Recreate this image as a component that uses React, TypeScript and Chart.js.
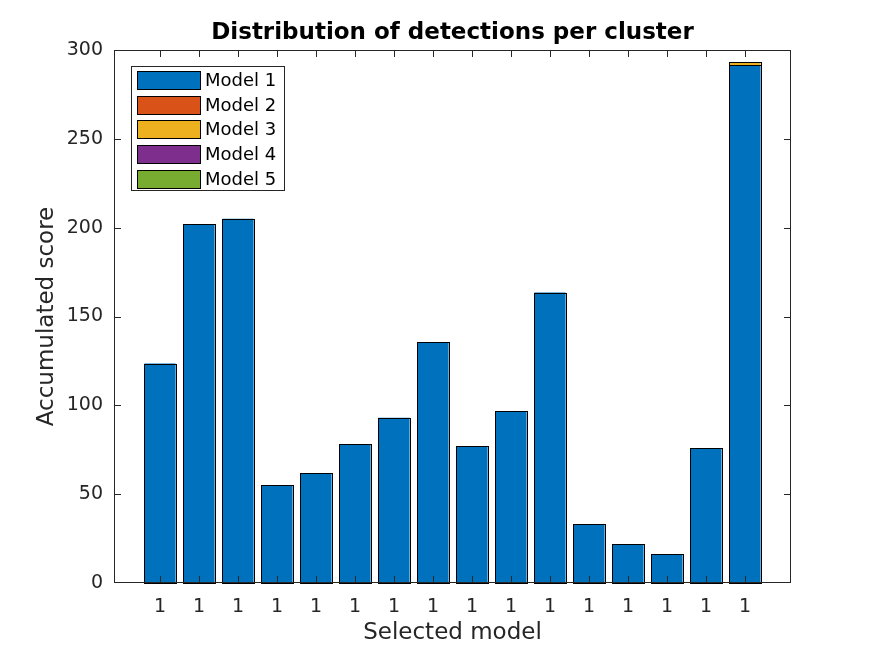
import React, { useEffect, useRef } from 'react';
import { Chart, registerables } from 'chart.js';

Chart.register(...registerables);

// one bar per cluster, the label under each bar is the selected model
const clusters = [1, 2, 3, 4, 5, 6, 7, 8, 9, 10, 11, 12, 13, 14, 15, 16];
const selectedModel = ['1', '1', '1', '1', '1', '1', '1', '1', '1', '1', '1', '1', '1', '1', '1', '1'];

const model1 = [123.5, 202, 205, 55, 61.8, 78, 93, 135.4, 77, 96.6, 163.5, 33, 22, 16.3, 75.8, 291.4];
const model2 = [0, 0, 0, 0, 0, 0, 0, 0, 0, 0, 0, 0, 0, 0, 0, 0];
const model3 = [0, 0, 0, 0, 0, 0, 0, 0, 0, 0, 0, 0, 0, 0, 0, 1.8];
const model4 = [0, 0, 0, 0, 0, 0, 0, 0, 0, 0, 0, 0, 0, 0, 0, 0];
const model5 = [0, 0, 0, 0, 0, 0, 0, 0, 0, 0, 0, 0, 0, 0, 0, 0];

const seriesNames = ['Model 1', 'Model 2', 'Model 3', 'Model 4', 'Model 5'];
const seriesColors = ['#0072BD', '#D95319', '#EDB120', '#7E2F8E', '#77AC30'];
const yTicks = [0, 50, 100, 150, 200, 250, 300];

const FONT = '"DejaVu Sans", sans-serif';
const AXIS = '#262626';

// crisp black edges round every bar segment, like matlab draws them
const edgePlugin = {
  id: 'edges',
  afterDatasetsDraw(chart: any) {
    const { ctx } = chart;
    ctx.save();
    ctx.strokeStyle = '#000';
    ctx.lineWidth = 1;
    chart.data.datasets.forEach((_d: any, i: number) => {
      const meta = chart.getDatasetMeta(i);
      meta.data.forEach((bar: any) => {
        const p = bar.getProps(['x', 'y', 'base', 'width']);
        if (Math.abs(p.base - p.y) < 0.5) return;
        const l = Math.round(p.x - p.width / 2);
        const r = Math.round(p.x + p.width / 2);
        const t = Math.round(Math.min(p.y, p.base));
        const b = Math.round(Math.max(p.y, p.base));
        ctx.strokeRect(l + 0.5, t + 0.5, r - l, b - t);
      });
    });
    ctx.restore();
  },
};

// matlab style box with inward ticks on all four sides
const boxPlugin = {
  id: 'box',
  afterDraw(chart: any) {
    const { ctx, chartArea: a, scales } = chart;
    const L = Math.round(a.left);
    const R = Math.round(a.right) - 1;
    const T = Math.round(a.top);
    const B = Math.round(a.bottom) - 1;
    const len = 7;
    ctx.save();
    ctx.fillStyle = AXIS;
    ctx.fillRect(L, T, R - L + 1, 1);
    ctx.fillRect(L, B, R - L + 1, 1);
    ctx.fillRect(L, T, 1, B - T + 1);
    ctx.fillRect(R, T, 1, B - T + 1);
    yTicks.forEach(v => {
      const y = Math.round(scales.y.getPixelForValue(v));
      const yy = Math.min(Math.max(y, T), B);
      ctx.fillRect(L, yy, len, 1);
      ctx.fillRect(R - len + 1, yy, len, 1);
    });
    clusters.forEach(v => {
      const x = Math.round(scales.x.getPixelForValue(v));
      ctx.fillRect(x, B - len + 1, 1, len);
      ctx.fillRect(x, T, 1, len);
    });
    ctx.restore();
  },
};

const titlePlugin = {
  id: 'mtitle',
  afterDraw(chart: any) {
    const { ctx, chartArea: a } = chart;
    ctx.save();
    ctx.font = `bold 23px ${FONT}`;
    ctx.fillStyle = '#000';
    ctx.textAlign = 'center';
    ctx.textBaseline = 'middle';
    ctx.fillText('Distribution of detections per cluster', (a.left + a.right) / 2, 33);
    ctx.restore();
  },
};

const legendPlugin = {
  id: 'mlegend',
  afterDraw(chart: any) {
    const { ctx, chartArea: a } = chart;
    const x0 = Math.round(a.left + 17);
    const y0 = Math.round(a.top + 16);
    const step = 24.7;
    const sw = 63;
    const sh = 18;
    const n = chart.data.datasets.length;
    ctx.save();
    ctx.font = `18px ${FONT}`;
    let tw = 0;
    chart.data.datasets.forEach((d: any) => {
      tw = Math.max(tw, ctx.measureText(d.label).width);
    });
    const w = Math.round(6 + sw + 5 + tw + 8);
    const h = Math.round(5 + step * (n - 1) + sh + 2);
    ctx.fillStyle = '#fff';
    ctx.fillRect(x0, y0, w, h);
    ctx.strokeStyle = AXIS;
    ctx.lineWidth = 1;
    ctx.strokeRect(x0 + 0.5, y0 + 0.5, w, h);
    chart.data.datasets.forEach((d: any, i: number) => {
      const sy = Math.round(y0 + 5 + i * step);
      ctx.fillStyle = d.backgroundColor;
      ctx.fillRect(x0 + 6, sy, sw, sh);
      ctx.strokeStyle = '#000';
      ctx.strokeRect(x0 + 6 + 0.5, sy + 0.5, sw, sh);
      ctx.fillStyle = '#000';
      ctx.textBaseline = 'middle';
      ctx.fillText(d.label, x0 + 6 + sw + 5, sy + sh / 2 + 1);
    });
    ctx.restore();
  },
};

const App: React.FC = () => {
  const chartRef = useRef<HTMLCanvasElement>(null);
  const chartInstance = useRef<Chart | null>(null);

  useEffect(() => {
    if (!chartRef.current) return;
    if (chartInstance.current) chartInstance.current.destroy();
    const ctx = chartRef.current.getContext('2d');
    if (!ctx) return;

    const series = [model1, model2, model3, model4, model5];

    chartInstance.current = new Chart(ctx, {
      type: 'bar',
      data: {
        datasets: series.map((vals, i) => ({
          label: seriesNames[i],
          data: vals.map((v, j) => ({ x: clusters[j], y: v })),
          backgroundColor: seriesColors[i],
          borderWidth: 0,
          categoryPercentage: 1,
          barPercentage: 0.8,
        })),
      },
      options: {
        animation: false,
        responsive: true,
        maintainAspectRatio: false,
        layout: { padding: { top: 50, right: 84, left: 0, bottom: 0 } },
        plugins: {
          legend: { display: false },
          title: { display: false },
          tooltip: { enabled: false },
        },
        scales: {
          x: {
            type: 'linear',
            stacked: true,
            offset: false,
            min: -0.18,
            max: 17.18,
            grid: { display: false, drawTicks: false, tickLength: 0 },
            border: { display: false },
            afterBuildTicks: (scale: any) => {
              scale.ticks = clusters.map(v => ({ value: v }));
            },
            afterFit: (scale: any) => {
              scale.height = 73;
            },
            ticks: {
              autoSkip: false,
              maxRotation: 0,
              padding: 13,
              color: AXIS,
              font: { family: FONT, size: 19 },
              callback: (_v: any, i: number) => selectedModel[i],
            },
            title: {
              display: true,
              text: 'Selected model',
              color: AXIS,
              font: { family: FONT, size: 23 },
              padding: { top: 0, bottom: 9 },
            },
          },
          y: {
            stacked: true,
            min: 0,
            max: 300,
            grid: { display: false, drawTicks: false, tickLength: 0 },
            border: { display: false },
            afterBuildTicks: (scale: any) => {
              scale.ticks = yTicks.map(v => ({ value: v }));
            },
            afterFit: (scale: any) => {
              scale.width = 114;
            },
            ticks: {
              padding: 11,
              color: AXIS,
              font: { family: FONT, size: 19 },
            },
            title: {
              display: true,
              text: 'Accumulated score',
              color: AXIS,
              font: { family: FONT, size: 23 },
              padding: { top: 33, bottom: 0 },
            },
          },
        },
      },
      plugins: [edgePlugin, boxPlugin, titlePlugin, legendPlugin],
    } as any);

    return () => {
      if (chartInstance.current) {
        chartInstance.current.destroy();
        chartInstance.current = null;
      }
    };
  }, []);

  return (
    <div style={{ position: 'absolute', left: 0, top: 0, width: 875, height: 656, background: '#fff' }}>
      <canvas ref={chartRef} />
    </div>
  );
};

export default App;
